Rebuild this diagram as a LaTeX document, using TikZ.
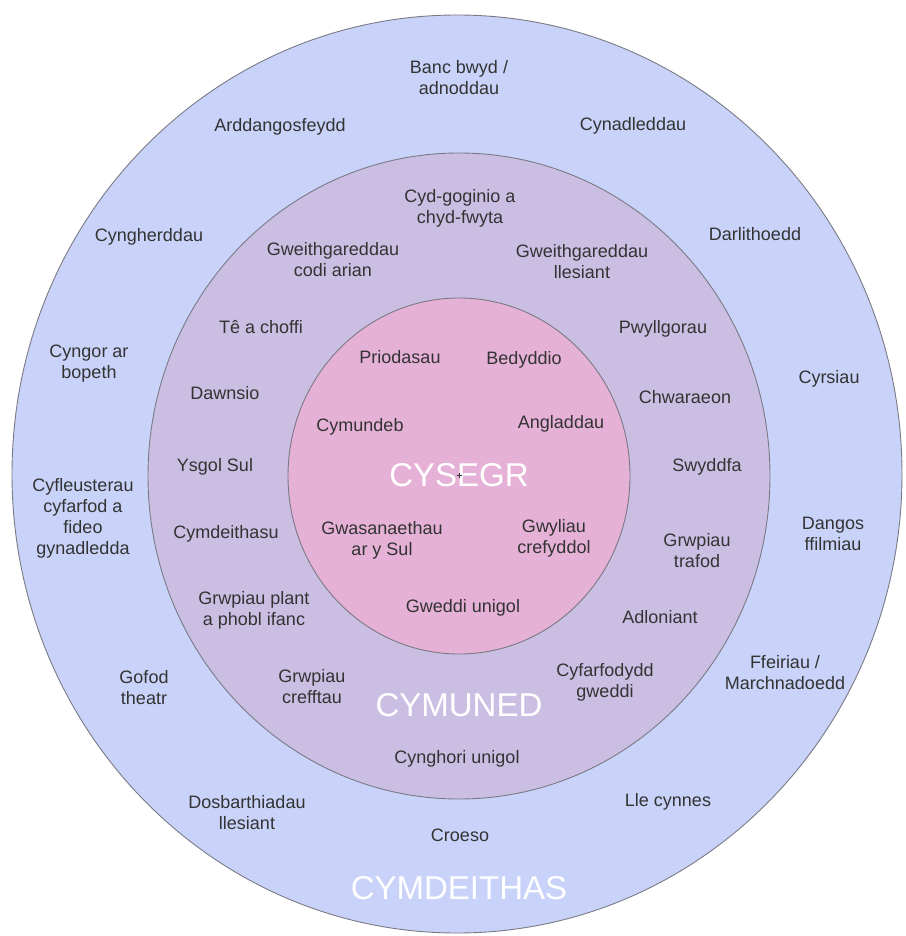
\documentclass[tikz,border=0pt]{standalone}
\usepackage{fontspec}
\setmainfont{Liberation Sans}
\definecolor{cymdeithasfill}{HTML}{C9D3F9}
\definecolor{cymunedfill}{HTML}{CBBEE3}
\definecolor{cysegrfill}{HTML}{E5B1D6}
\definecolor{ringline}{HTML}{7A7A85}
\definecolor{labeltext}{HTML}{333333}
\begin{document}
\begin{tikzpicture}[x=1pt,y=-1pt]
        \tikzset{ring/.style={draw=ringline,line width=0.9pt},
                 item/.style={font=\fontsize{18}{21}\selectfont,text=labeltext,align=center,inner sep=0pt},
                 title/.style={font=\fontsize{33}{36}\selectfont,text=white,inner sep=0pt}}
        \useasboundingbox (0,0) rectangle (905,936);
        % the three rings
        \draw[ring,fill=cymdeithasfill] (457,474) ellipse [x radius=445pt,y radius=459pt];
        \draw[ring,fill=cymunedfill] (459,476) ellipse [x radius=311pt,y radius=323pt];
        \draw[ring,fill=cysegrfill] (459,476) ellipse [x radius=171pt,y radius=178pt];
        % outer ring
        \node[item] (banc) at (459,77.5) {Banc bwyd /\\adnoddau};
        \node[item] (arddangos) at (280,127) {Arddangosfeydd};
        \node[item] (cynadledd) at (633,126) {Cynadleddau};
        \node[item] (cyngherdd) at (149,237) {Cyngherddau};
        \node[item] (darlith) at (755,234) {Darlithoedd};
        \node[item] (cyngor) at (89,364) {Cyngor ar\\bopeth};
        \node[item] (cyrsiau) at (829,379) {Cyrsiau};
        \node[item] (cyfleuster) at (83,518) {Cyfleusterau\\cyfarfod a\\fideo\\gynadledda};
        \node[item] (dangos) at (833,533.5) {Dangos\\ffilmiau};
        \node[item] (gofod) at (144,688) {Gofod\\theatr};
        \node[item] (ffeiriau) at (785,673) {Ffeiriau /\\Marchnadoedd};
        \node[item] (dosbarth) at (247,813) {Dosbarthiadau\\llesiant};
        \node[item] (llecynnes) at (668,802) {Lle cynnes};
        \node[item] (croeso) at (460,835) {Croeso};
        \node[title] (cymdeithas) at (459,888) {CYMDEITHAS};
        % middle ring
        \node[item] (cydgoginio) at (460,208.5) {Cyd-goginio a\\chyd-fwyta};
        \node[item] (codiarian) at (333,260) {Gweithgareddau\\codi arian};
        \node[item] (llesiant) at (582,261.5) {Gweithgareddau\\llesiant};
        \node[item] (coffi) at (261,327) {Tê a choffi};
        \node[item] (pwyllgor) at (663,329) {Pwyllgorau};
        \node[item] (dawnsio) at (225,393) {Dawnsio};
        \node[item] (chwarae) at (685,397) {Chwaraeon};
        \node[item] (ysgolsul) at (215,467) {Ysgol Sul};
        \node[item] (swyddfa) at (707,467) {Swyddfa};
        \node[item] (cymdeithasu) at (226,534) {Cymdeithasu};
        \node[item] (trafod) at (697,551) {Grwpiau\\trafod};
        \node[item] (plant) at (254,610.5) {Grwpiau plant\\a phobl ifanc};
        \node[item] (adloniant) at (660,617) {Adloniant};
        \node[item] (crefft) at (312,686.5) {Grwpiau\\crefftau};
        \node[item] (cyfarfodydd) at (605,682.5) {Cyfarfodydd\\gweddi};
        \node[title] (cymuned) at (459,705) {CYMUNED};
        \node[item] (cynghori) at (457,759) {Cynghori unigol};
        % inner circle
        \node[item] (priodas) at (400,357) {Priodasau};
        \node[item] (bedydd) at (524,360) {Bedyddio};
        \node[item] (cymundeb) at (360,427) {Cymundeb};
        \node[item] (angladd) at (561,424) {Angladdau};
        \node[title] (cysegr) at (459,475) {CYSEGR};
        \draw[labeltext,line width=0.6pt] ([xshift=-2.5pt]cysegr.center) -- ([xshift=2.5pt]cysegr.center)
              ([yshift=-2.5pt]cysegr.center) -- ([yshift=2.5pt]cysegr.center);
        \node[item] (gwasanaeth) at (382,540.5) {Gwasanaethau\\ar y Sul};
        \node[item] (gwyliau) at (554,538.5) {Gwyliau\\crefyddol};
        \node[item] (gweddi) at (463,608) {Gweddi unigol};
    \end{tikzpicture}
\end{document}
